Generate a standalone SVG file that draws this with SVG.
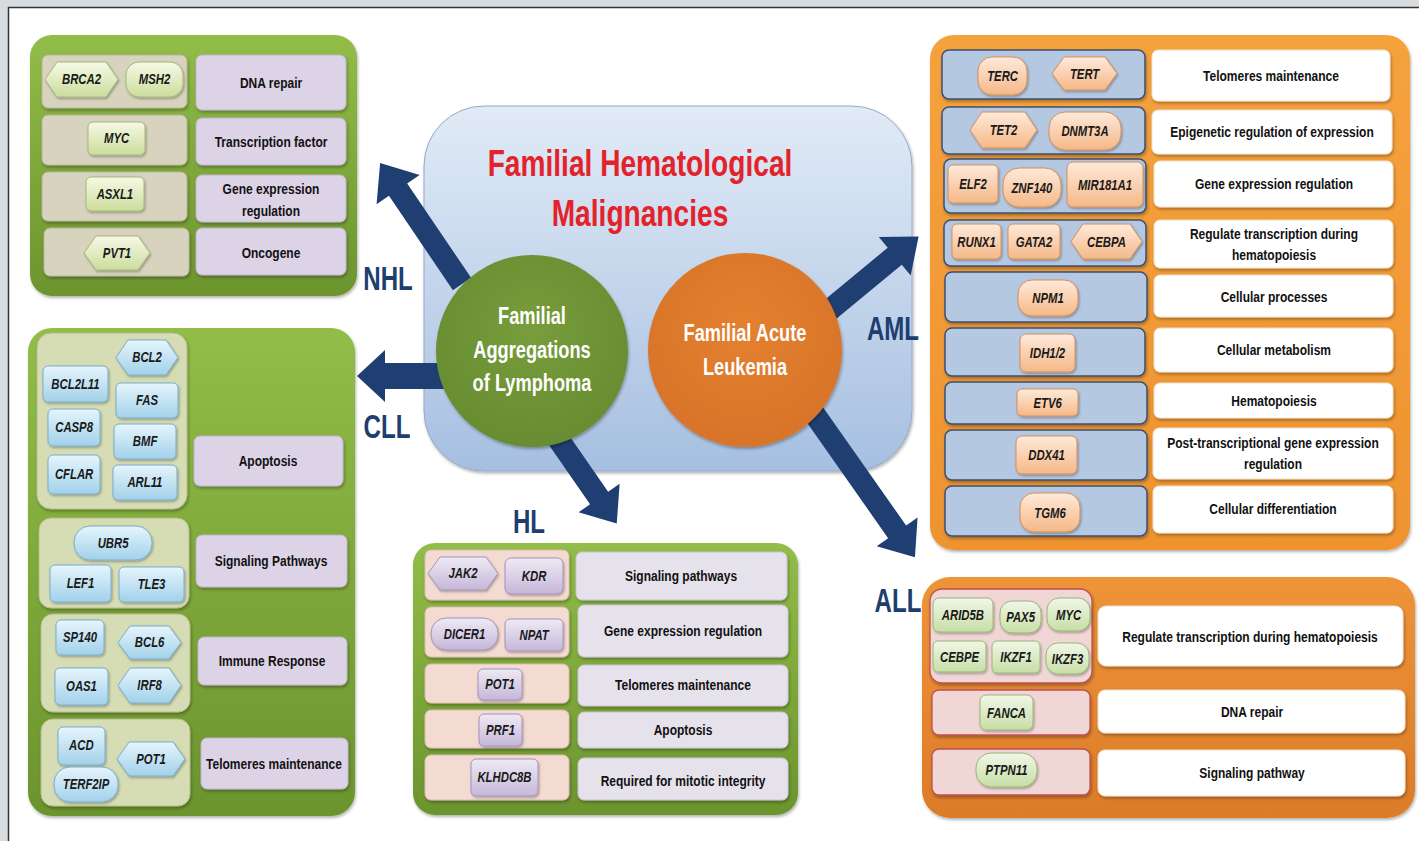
<svg xmlns="http://www.w3.org/2000/svg" width="1419" height="841" viewBox="0 0 1419 841">
  <style>
    text { font-family: "Liberation Sans", Arial, sans-serif; transform-box: fill-box; transform-origin: center; }
    .gt { font-weight: bold; font-style: italic; font-size: 14px; fill: #1a1a1a; text-anchor: middle; transform: scaleX(0.81); }
    .ft { font-weight: bold; font-size: 15.5px; fill: #111; text-anchor: middle; transform: scaleX(0.775); }
    .lbl { font-weight: bold; font-size: 33px; fill: #1d3e6e; text-anchor: middle; transform: scaleX(0.73); }
    .title { font-weight: bold; font-size: 37px; fill: #e3222b; text-anchor: middle; transform: scaleX(0.76); }
    .ctext { font-weight: bold; font-size: 24px; fill: #fff; text-anchor: middle; transform: scaleX(0.76); }
    .arrow { fill: #1f3f72; }
    .pg { fill: url(#gGreen); filter: url(#sh); }
    .paml { fill: url(#gOrange); filter: url(#sh); }
    .pall { fill: url(#gOrange2); filter: url(#sh); }
    .g-nhl { fill: #d8d3bf; stroke: #b8b39c; stroke-width: 1; filter: url(#sh); }
    .g-cll { fill: #d6ddb4; stroke: #b4bc8c; stroke-width: 1; filter: url(#sh); }
    .g-hl { fill: #f4dbd2; stroke: #d9bcb0; stroke-width: 1; filter: url(#sh); }
    .g-aml { fill: #b5c8e1; stroke: #3d4f70; stroke-width: 1.5; filter: url(#sh); }
    .g-all { fill: #f1d6d6; stroke: #c0504d; stroke-width: 1.3; filter: url(#sh); }
    .f-lav { fill: #ddd3e7; stroke: #bfb3cc; stroke-width: 1; filter: url(#sh); }
    .f-hl { fill: #e6e2ec; stroke: #c9c3d2; stroke-width: 1; filter: url(#sh); }
    .f-w { fill: #fff; stroke: #f0e0cc; stroke-width: 1; filter: url(#sh); }
    .c-nhl { fill: url(#cNhl); stroke: #a5b877; stroke-width: 1; filter: url(#sh2); }
    .c-cll { fill: url(#cCll); stroke: #78aecb; stroke-width: 1; filter: url(#sh2); }
    .c-hl { fill: url(#cHl); stroke: #a393ba; stroke-width: 1; filter: url(#sh2); }
    .c-aml { fill: url(#cAml); stroke: #d39058; stroke-width: 1; filter: url(#sh2); }
    .c-all { fill: url(#cAll); stroke: #9ab676; stroke-width: 1; filter: url(#sh2); }
  </style>
  <defs>
    <filter id="sh" x="-10%" y="-10%" width="120%" height="130%">
      <feDropShadow dx="1" dy="2" stdDeviation="1.5" flood-color="#000" flood-opacity="0.3"/>
    </filter>
    <filter id="sh2" x="-10%" y="-10%" width="130%" height="140%">
      <feDropShadow dx="1" dy="1.5" stdDeviation="1" flood-color="#000" flood-opacity="0.3"/>
    </filter>
    <linearGradient id="gGreen" x1="0" y1="0" x2="0" y2="1">
      <stop offset="0" stop-color="#92bd48"/>
      <stop offset="1" stop-color="#6c942e"/>
    </linearGradient>
    <linearGradient id="gOrange" x1="0" y1="0" x2="0" y2="1">
      <stop offset="0" stop-color="#f5a23e"/>
      <stop offset="1" stop-color="#ee932f"/>
    </linearGradient>
    <linearGradient id="gOrange2" x1="0" y1="0" x2="0" y2="1">
      <stop offset="0" stop-color="#ee9438"/>
      <stop offset="1" stop-color="#dc7b28"/>
    </linearGradient>
    <linearGradient id="gCenter" x1="0" y1="0" x2="0" y2="1">
      <stop offset="0" stop-color="#e1ebf6"/>
      <stop offset="1" stop-color="#a6bfe1"/>
    </linearGradient>
    <linearGradient id="cNhl" x1="0" y1="0" x2="0" y2="1">
      <stop offset="0" stop-color="#f6f9e6"/>
      <stop offset="1" stop-color="#cbdd9c"/>
    </linearGradient>
    <linearGradient id="cCll" x1="0" y1="0" x2="0" y2="1">
      <stop offset="0" stop-color="#e6f5fc"/>
      <stop offset="1" stop-color="#a2d1ea"/>
    </linearGradient>
    <linearGradient id="cHl" x1="0" y1="0" x2="0" y2="1">
      <stop offset="0" stop-color="#efeaf5"/>
      <stop offset="1" stop-color="#c5b7d9"/>
    </linearGradient>
    <linearGradient id="cAml" x1="0" y1="0" x2="0" y2="1">
      <stop offset="0" stop-color="#feeadb"/>
      <stop offset="1" stop-color="#f5b887"/>
    </linearGradient>
    <linearGradient id="cAll" x1="0" y1="0" x2="0" y2="1">
      <stop offset="0" stop-color="#f1f7e8"/>
      <stop offset="1" stop-color="#c7dea6"/>
    </linearGradient>
    <radialGradient id="gCircG" cx="0.5" cy="0.4" r="0.6">
      <stop offset="0" stop-color="#779d3c"/>
      <stop offset="1" stop-color="#688c31"/>
    </radialGradient>
    <radialGradient id="gCircO" cx="0.5" cy="0.4" r="0.6">
      <stop offset="0" stop-color="#e4802f"/>
      <stop offset="1" stop-color="#d8742a"/>
    </radialGradient>
  </defs>

  <!-- page frame -->
  <rect x="0" y="0" width="1419" height="841" fill="#fff"/>
  <rect x="0" y="0" width="1419" height="7" fill="#d7dcdf"/>
  <rect x="0" y="0" width="8" height="841" fill="#d7dcdf"/>
  <path d="M8.5 841 V7.5 H1419" fill="none" stroke="#333" stroke-width="1.5"/>

  <!-- centre block -->
  <g id="center">
    <rect x="424" y="106" width="488" height="365" rx="60" fill="url(#gCenter)" stroke="#93aacb" stroke-width="1" filter="url(#sh)"/>
    <text class="title" x="640" y="176">Familial Hematological</text>
    <text class="title" x="640" y="226">Malignancies</text>
  </g>

  <!-- connectors -->
  <g id="connectors">
    <path class="arrow" d="M0,-11 H114 V-26 L146,0 L114,26 V11 H0 Z" transform="translate(462,284) rotate(235.9)"/>
    <path class="arrow" d="M0,-13 H65 V-26 L93,0 L65,26 V13 H0 Z" transform="translate(450,376) rotate(180)"/>
    <path class="arrow" d="M0,-11 H95 V-25 L126,0 L95,25 V11 H0 Z" transform="translate(545,420) rotate(55.3)"/>
    <path class="arrow" d="M0,-11 H97 V-25 L128,0 L97,25 V11 H0 Z" transform="translate(820,318) rotate(-39.6)"/>
    <path class="arrow" d="M0,-11 H155 V-25 L186,0 L155,25 V11 H0 Z" transform="translate(808,405) rotate(54.9)"/>
    <text class="lbl" x="388" y="290">NHL</text>
    <text class="lbl" x="387" y="438">CLL</text>
    <text class="lbl" x="529" y="533">HL</text>
    <text class="lbl" x="893" y="340">AML</text>
    <text class="lbl" x="898" y="612">ALL</text>
  </g>

  <g id="lymphoma">
    <circle cx="532" cy="351" r="96" fill="url(#gCircG)" filter="url(#sh)"/>
    <text class="ctext" x="532" y="324">Familial</text>
    <text class="ctext" x="532" y="358">Aggregations</text>
    <text class="ctext" x="532" y="391">of Lymphoma</text>
  </g>
  <g id="leukemia">
    <circle cx="745" cy="350" r="97" fill="url(#gCircO)" filter="url(#sh)"/>
    <text class="ctext" x="745" y="341">Familial Acute</text>
    <text class="ctext" x="745" y="375">Leukemia</text>
  </g>

  <!-- NHL panel -->
  <g id="nhl">
    <rect class="pg" x="30" y="35" width="327" height="261" rx="22"/>
    <rect class="g-nhl" x="42" y="55" width="145" height="53" rx="6"/>
    <rect class="f-lav" x="196" y="55" width="150" height="55" rx="6"/>
    <rect class="g-nhl" x="42" y="115" width="145" height="50" rx="6"/>
    <rect class="f-lav" x="196" y="118" width="150" height="47" rx="6"/>
    <rect class="g-nhl" x="42" y="172" width="145" height="49" rx="6"/>
    <rect class="f-lav" x="196" y="175" width="150" height="47" rx="6"/>
    <rect class="g-nhl" x="44" y="228" width="145" height="48" rx="6"/>
    <rect class="f-lav" x="196" y="228" width="150" height="47" rx="6"/>
    <path class="c-nhl" d="M45,79.5 L57,62 H106 L118,79.5 L106,97 H57 Z"/>
    <rect class="c-nhl" x="126" y="62" width="57" height="35" rx="13"/>
    <rect class="c-nhl" x="88" y="122" width="57" height="33" rx="5"/>
    <rect class="c-nhl" x="86" y="177" width="58" height="34" rx="5"/>
    <path class="c-nhl" d="M84,253 L96,236 H138 L150,253 L138,270 H96 Z"/>
    <text class="gt" x="81.5" y="84">BRCA2</text>
    <text class="gt" x="154.5" y="84">MSH2</text>
    <text class="gt" x="116.5" y="143">MYC</text>
    <text class="gt" x="115" y="199">ASXL1</text>
    <text class="gt" x="117" y="258">PVT1</text>
    <text class="ft" x="271" y="88">DNA repair</text>
    <text class="ft" x="271" y="147">Transcription factor</text>
    <text class="ft" x="271" y="194">Gene expression</text>
    <text class="ft" x="271" y="216">regulation</text>
    <text class="ft" x="271" y="258">Oncogene</text>
  </g>

  <!-- CLL panel -->
  <g id="cll">
    <rect class="pg" x="28" y="328" width="327" height="488" rx="24"/>
    <rect class="g-cll" x="37" y="333" width="150" height="176" rx="14"/>
    <rect class="f-lav" x="194" y="436" width="149" height="50" rx="6"/>
    <rect class="g-cll" x="39" y="518" width="150" height="90" rx="12"/>
    <rect class="f-lav" x="196" y="535" width="151" height="52" rx="6"/>
    <rect class="g-cll" x="41" y="614" width="149" height="98" rx="12"/>
    <rect class="f-lav" x="198" y="637" width="149" height="48" rx="6"/>
    <rect class="g-cll" x="41" y="719" width="149" height="87" rx="12"/>
    <rect class="f-lav" x="201" y="738" width="147" height="51" rx="6"/>
    <path class="c-cll" d="M116,357.5 L128,340 H166 L178,357.5 L166,375 H128 Z"/>
    <rect class="c-cll" x="43" y="366" width="65" height="36" rx="5"/>
    <rect class="c-cll" x="116" y="383" width="62" height="35" rx="5"/>
    <rect class="c-cll" x="48" y="409" width="52" height="37" rx="5"/>
    <rect class="c-cll" x="114" y="424" width="62" height="35" rx="5"/>
    <rect class="c-cll" x="48" y="455" width="52" height="39" rx="5"/>
    <rect class="c-cll" x="113" y="465" width="64" height="35" rx="5"/>
    <rect class="c-cll" x="74" y="526" width="78" height="34" rx="16"/>
    <rect class="c-cll" x="50" y="565" width="61" height="37" rx="5"/>
    <rect class="c-cll" x="119" y="567" width="65" height="35" rx="5"/>
    <rect class="c-cll" x="56" y="620" width="48" height="35" rx="5"/>
    <path class="c-cll" d="M118,642.5 L130,626 H169 L181,642.5 L169,659 H130 Z"/>
    <rect class="c-cll" x="55" y="668" width="53" height="37" rx="5"/>
    <path class="c-cll" d="M118,685.5 L130,668 H169 L181,685.5 L169,703 H130 Z"/>
    <rect class="c-cll" x="58" y="727" width="47" height="38" rx="5"/>
    <path class="c-cll" d="M117,759 L129,742 H173 L185,759 L173,776 H129 Z"/>
    <rect class="c-cll" x="54" y="767" width="64" height="35" rx="16"/>
    <text class="gt" x="147" y="362">BCL2</text>
    <text class="gt" x="75.5" y="389">BCL2L11</text>
    <text class="gt" x="147" y="405">FAS</text>
    <text class="gt" x="74" y="432">CASP8</text>
    <text class="gt" x="145" y="446">BMF</text>
    <text class="gt" x="74" y="479">CFLAR</text>
    <text class="gt" x="145" y="487">ARL11</text>
    <text class="gt" x="113" y="548">UBR5</text>
    <text class="gt" x="80.5" y="588">LEF1</text>
    <text class="gt" x="151.5" y="589">TLE3</text>
    <text class="gt" x="80" y="642">SP140</text>
    <text class="gt" x="149.5" y="647">BCL6</text>
    <text class="gt" x="81.5" y="691">OAS1</text>
    <text class="gt" x="149.5" y="690">IRF8</text>
    <text class="gt" x="81.5" y="750">ACD</text>
    <text class="gt" x="151" y="764">POT1</text>
    <text class="gt" x="86" y="789">TERF2IP</text>
    <text class="ft" x="268" y="466">Apoptosis</text>
    <text class="ft" x="271" y="566">Signaling Pathways</text>
    <text class="ft" x="272" y="666">Immune Response</text>
    <text class="ft" x="274" y="769">Telomeres maintenance</text>
  </g>

  <!-- HL panel -->
  <g id="hl">
    <rect class="pg" x="413" y="543" width="385" height="272" rx="22"/>
    <rect class="g-hl" x="425" y="550" width="144" height="50" rx="6"/>
    <rect class="f-hl" x="576" y="552" width="211" height="48" rx="6"/>
    <rect class="g-hl" x="425" y="607" width="144" height="50" rx="6"/>
    <rect class="f-hl" x="578" y="605" width="210" height="52" rx="6"/>
    <rect class="g-hl" x="425" y="664" width="144" height="39" rx="6"/>
    <rect class="f-hl" x="578" y="665" width="210" height="41" rx="6"/>
    <rect class="g-hl" x="425" y="710" width="144" height="38" rx="6"/>
    <rect class="f-hl" x="578" y="712" width="210" height="36" rx="6"/>
    <rect class="g-hl" x="425" y="755" width="144" height="45" rx="6"/>
    <rect class="f-hl" x="578" y="758" width="210" height="42" rx="6"/>
    <path class="c-hl" d="M428,573.5 L440,557 H486 L498,573.5 L486,590 H440 Z"/>
    <rect class="c-hl" x="505" y="558" width="58" height="36" rx="6"/>
    <rect class="c-hl" x="431" y="618" width="67" height="32" rx="15"/>
    <rect class="c-hl" x="505" y="619" width="58" height="32" rx="5"/>
    <rect class="c-hl" x="478" y="669" width="44" height="31" rx="5"/>
    <rect class="c-hl" x="479" y="714" width="43" height="32" rx="5"/>
    <rect class="c-hl" x="471" y="759" width="67" height="37" rx="5"/>
    <text class="gt" x="463" y="578">JAK2</text>
    <text class="gt" x="534" y="581">KDR</text>
    <text class="gt" x="464.5" y="639">DICER1</text>
    <text class="gt" x="534" y="640">NPAT</text>
    <text class="gt" x="500" y="689">POT1</text>
    <text class="gt" x="500.5" y="735">PRF1</text>
    <text class="gt" x="504.5" y="782">KLHDC8B</text>
    <text class="ft" x="681" y="581">Signaling pathways</text>
    <text class="ft" x="683" y="636">Gene expression regulation</text>
    <text class="ft" x="683" y="690">Telomeres maintenance</text>
    <text class="ft" x="683" y="735">Apoptosis</text>
    <text class="ft" x="683" y="786">Required for mitotic integrity</text>
  </g>

  <!-- AML panel -->
  <g id="aml">
    <rect class="paml" x="930" y="35" width="480" height="515" rx="24"/>
    <rect class="g-aml" x="942" y="50" width="203" height="49" rx="7"/>
    <rect class="f-w" x="1152" y="50" width="238" height="51" rx="6"/>
    <rect class="g-aml" x="942" y="107" width="203" height="47" rx="7"/>
    <rect class="f-w" x="1152" y="110" width="240" height="44" rx="6"/>
    <rect class="g-aml" x="944" y="159" width="202" height="54" rx="7"/>
    <rect class="f-w" x="1154" y="161" width="239" height="46" rx="6"/>
    <rect class="g-aml" x="944" y="220" width="202" height="46" rx="7"/>
    <rect class="f-w" x="1154" y="220" width="239" height="48" rx="6"/>
    <rect class="g-aml" x="945" y="272" width="202" height="50" rx="7"/>
    <rect class="f-w" x="1154" y="275" width="239" height="42" rx="6"/>
    <rect class="g-aml" x="945" y="328" width="200" height="48" rx="7"/>
    <rect class="f-w" x="1154" y="328" width="239" height="44" rx="6"/>
    <rect class="g-aml" x="945" y="382" width="202" height="42" rx="7"/>
    <rect class="f-w" x="1154" y="383" width="239" height="35" rx="6"/>
    <rect class="g-aml" x="945" y="430" width="202" height="50" rx="7"/>
    <rect class="f-w" x="1153" y="428" width="240" height="51" rx="6"/>
    <rect class="g-aml" x="945" y="486" width="202" height="50" rx="7"/>
    <rect class="f-w" x="1153" y="486" width="240" height="47" rx="6"/>
    <rect class="c-aml" x="978" y="57" width="49" height="38" rx="14"/>
    <path class="c-aml" d="M1052,73.5 L1064,57 H1105 L1117,73.5 L1105,90 H1064 Z"/>
    <path class="c-aml" d="M970,130 L982,112 H1025 L1037,130 L1025,148 H982 Z"/>
    <rect class="c-aml" x="1049" y="112" width="72" height="38" rx="16"/>
    <rect class="c-aml" x="948" y="165" width="50" height="38" rx="5"/>
    <rect class="c-aml" x="1003" y="168" width="58" height="39" rx="16"/>
    <rect class="c-aml" x="1067" y="162" width="76" height="45" rx="6"/>
    <rect class="c-aml" x="952" y="224" width="49" height="35" rx="5"/>
    <rect class="c-aml" x="1008" y="224" width="52" height="35" rx="5"/>
    <path class="c-aml" d="M1071,241.5 L1083,224 H1130 L1142,241.5 L1130,259 H1083 Z"/>
    <rect class="c-aml" x="1018" y="280" width="60" height="36" rx="14"/>
    <rect class="c-aml" x="1020" y="334" width="55" height="38" rx="6"/>
    <rect class="c-aml" x="1017" y="389" width="61" height="27" rx="5"/>
    <rect class="c-aml" x="1016" y="436" width="61" height="38" rx="6"/>
    <rect class="c-aml" x="1020" y="493" width="60" height="39" rx="14"/>
    <text class="gt" x="1002.5" y="81">TERC</text>
    <text class="gt" x="1084.5" y="79">TERT</text>
    <text class="gt" x="1003.5" y="135">TET2</text>
    <text class="gt" x="1085" y="136">DNMT3A</text>
    <text class="gt" x="973" y="189">ELF2</text>
    <text class="gt" x="1032" y="193">ZNF140</text>
    <text class="gt" x="1105" y="190">MIR181A1</text>
    <text class="gt" x="976.5" y="247">RUNX1</text>
    <text class="gt" x="1034" y="247">GATA2</text>
    <text class="gt" x="1106.5" y="247">CEBPA</text>
    <text class="gt" x="1048" y="303">NPM1</text>
    <text class="gt" x="1047.5" y="358">IDH1/2</text>
    <text class="gt" x="1047.5" y="408">ETV6</text>
    <text class="gt" x="1046.5" y="460">DDX41</text>
    <text class="gt" x="1050" y="518">TGM6</text>
    <text class="ft" x="1271" y="81">Telomeres maintenance</text>
    <text class="ft" x="1272" y="137">Epigenetic regulation of expression</text>
    <text class="ft" x="1274" y="189">Gene expression regulation</text>
    <text class="ft" x="1274" y="239">Regulate transcription during</text>
    <text class="ft" x="1274" y="260">hematopoiesis</text>
    <text class="ft" x="1274" y="302">Cellular processes</text>
    <text class="ft" x="1274" y="355">Cellular metabolism</text>
    <text class="ft" x="1274" y="406">Hematopoiesis</text>
    <text class="ft" x="1273" y="448">Post-transcriptional gene expression</text>
    <text class="ft" x="1273" y="469">regulation</text>
    <text class="ft" x="1273" y="514">Cellular differentiation</text>
  </g>

  <!-- ALL panel -->
  <g id="all">
    <rect class="pall" x="922" y="577" width="493" height="241" rx="28"/>
    <rect class="g-all" x="930" y="589" width="162" height="94" rx="12"/>
    <rect class="f-w" x="1098" y="606" width="305" height="60" rx="8"/>
    <rect class="g-all" x="932" y="690" width="158" height="45" rx="7"/>
    <rect class="f-w" x="1098" y="690" width="307" height="43" rx="7"/>
    <rect class="g-all" x="932" y="749" width="158" height="46" rx="7"/>
    <rect class="f-w" x="1098" y="750" width="307" height="46" rx="7"/>
    <rect class="c-all" x="933" y="598" width="60" height="34" rx="6"/>
    <rect class="c-all" x="1000" y="601" width="41" height="32" rx="12"/>
    <rect class="c-all" x="1047" y="598" width="43" height="33" rx="12"/>
    <rect class="c-all" x="933" y="641" width="53" height="31" rx="5"/>
    <rect class="c-all" x="992" y="641" width="48" height="32" rx="5"/>
    <rect class="c-all" x="1046" y="643" width="43" height="31" rx="12"/>
    <rect class="c-all" x="980" y="695" width="53" height="35" rx="6"/>
    <rect class="c-all" x="976" y="753" width="61" height="34" rx="15"/>
    <text class="gt" x="963" y="620">ARID5B</text>
    <text class="gt" x="1020.5" y="622">PAX5</text>
    <text class="gt" x="1068.5" y="620">MYC</text>
    <text class="gt" x="959.5" y="662">CEBPE</text>
    <text class="gt" x="1016" y="662">IKZF1</text>
    <text class="gt" x="1067.5" y="664">IKZF3</text>
    <text class="gt" x="1006.5" y="718">FANCA</text>
    <text class="gt" x="1006.5" y="775">PTPN11</text>
    <text class="ft" x="1250" y="642">Regulate transcription during hematopoiesis</text>
    <text class="ft" x="1252" y="717">DNA repair</text>
    <text class="ft" x="1252" y="778">Signaling pathway</text>
  </g>
</svg>
